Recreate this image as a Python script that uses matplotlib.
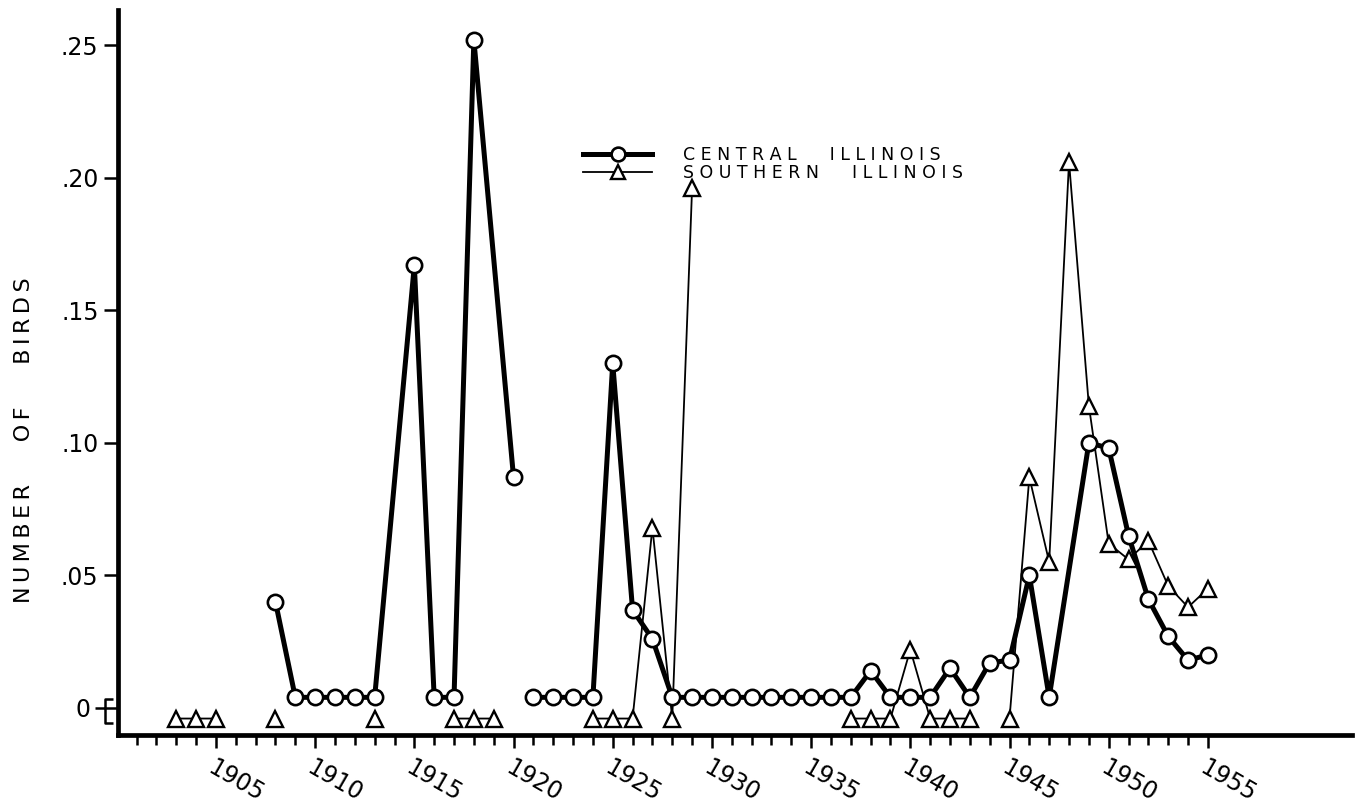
import numpy as np
import matplotlib
matplotlib.use("Agg")
import matplotlib.pyplot as plt
from matplotlib.lines import Line2D

nan = np.nan

# ---------------- data (NaN = break in the line) ----------------
central_years = [1908, 1909, 1910, 1911, 1912, 1913, 1915, 1916, 1917, 1918, 1920, 1920,
                 1921, 1922, 1923, 1924, 1925, 1926, 1927, 1928, 1929, 1930, 1931, 1932,
                 1933, 1934, 1935, 1936, 1937, 1938, 1939, 1940, 1941, 1942, 1943, 1944,
                 1945, 1946, 1947, 1949, 1950, 1951, 1952, 1953, 1954, 1955]
central_values = [0.040, 0.004, 0.004, 0.004, 0.004, 0.004, 0.167, 0.004, 0.004, 0.252, 0.087, nan,
                  0.004, 0.004, 0.004, 0.004, 0.130, 0.037, 0.026, 0.004, 0.004, 0.004, 0.004, 0.004,
                  0.004, 0.004, 0.004, 0.004, 0.004, 0.014, 0.004, 0.004, 0.004, 0.015, 0.004, 0.017,
                  0.018, 0.050, 0.004, 0.100, 0.098, 0.065, 0.041, 0.027, 0.018, 0.020]

southern_years = [1903, 1904, 1905, 1906, 1908, 1909, 1913, 1914, 1917, 1918, 1919, 1920,
                  1924, 1925, 1926, 1927, 1928, 1929, 1930,
                  1937, 1938, 1939, 1940, 1941, 1942, 1943, 1944,
                  1945, 1946, 1947, 1948, 1949, 1950, 1951, 1952, 1953, 1954, 1955]
southern_values = [-0.004, -0.004, -0.004, nan, -0.004, nan, -0.004, nan, -0.004, -0.004, -0.004, nan,
                   -0.004, -0.004, -0.004, 0.068, -0.004, 0.196, nan,
                   -0.004, -0.004, -0.004, 0.022, -0.004, -0.004, -0.004, nan,
                   -0.004, 0.087, 0.055, 0.206, 0.114, 0.062, 0.056, 0.063, 0.046, 0.038, 0.045]

series_labels = ["CENTRAL  ILLINOIS", "SOUTHERN  ILLINOIS"]
y_ticks = [0, 0.05, 0.10, 0.15, 0.20, 0.25]
y_ticklabels = ["0", ".05", ".10", ".15", ".20", ".25"]
x_major = list(range(1905, 1956, 5))
x_minor = list(range(1901, 1956))
y_label = "NUMBER OF BIRDS"


def letterspaced(text, letter_gap="\u2009", word_gap="      "):
    return word_gap.join(letter_gap.join(w) for w in text.split())


plt.rcParams['font.family'] = ['DejaVu Sans']

fig = plt.figure(figsize=(13.62, 8.09), dpi=100)
ax = fig.add_axes([0.0866, 0.0915, 0.906, 0.896])

ax.plot(southern_years, southern_values, color='black', lw=1.3, marker='^',
        markersize=11, markerfacecolor='white', markeredgecolor='black',
        markeredgewidth=1.7, zorder=2)
ax.plot(central_years, central_values, color='black', lw=3.6, marker='o',
        markersize=11, markerfacecolor='white', markeredgecolor='black',
        markeredgewidth=1.9, zorder=3)

ax.set_xlim(1900.06, 1962.26)
ax.set_ylim(-0.0102, 0.2632)

for s in ['top', 'right']:
    ax.spines[s].set_visible(False)
for s in ['left', 'bottom']:
    ax.spines[s].set_linewidth(3.4)
    ax.spines[s].set_capstyle('projecting')

ax.set_xticks(x_major)
ax.set_xticks(x_minor, minor=True)
ax.set_xticklabels([str(y) for y in x_major], fontsize=17,
                   rotation=-30, ha='left', va='top', rotation_mode='anchor')
ax.tick_params(axis='x', which='major', length=9, width=1.8, pad=6)
ax.tick_params(axis='x', which='minor', length=7, width=1.8)

ax.set_yticks(y_ticks)
ax.set_yticklabels(y_ticklabels, fontsize=17)
ax.tick_params(axis='y', which='major', length=10, width=1.8, pad=4)

# zero tick: no tick line, label further left, with dash and bracket
t0 = ax.yaxis.get_major_ticks()[0]
t0.tick1line.set_markersize(0)
t0.set_pad(10)
br = dict(color='black', lw=1.8, clip_on=False, solid_capstyle='butt',
          transform=ax.get_yaxis_transform())
ax.plot([-0.0190, -0.0105], [0.0, 0.0], **br)
ax.plot([-0.0041, -0.0105, -0.0105, -0.0041], [0.0034, 0.0034, -0.0057, -0.0057], **br)

ax.set_ylabel(letterspaced(y_label), fontsize=16)
ax.yaxis.set_label_coords(-0.068, 0.407)

handles = [Line2D([], [], color='black', lw=3.6, marker='o', markersize=11,
                  markerfacecolor='white', markeredgecolor='black', markeredgewidth=1.9),
           Line2D([], [], color='black', lw=1.3, marker='^', markersize=11,
                  markerfacecolor='white', markeredgecolor='black', markeredgewidth=1.7)]
leg = ax.legend(handles, [letterspaced(l, " ", "      ") for l in series_labels],
                loc='center left', bbox_to_anchor=(0.3768, 0.788), frameon=False,
                fontsize=12.5, handlelength=4.0, handletextpad=1.75, labelspacing=0.0,
                borderpad=0, borderaxespad=0, markerscale=0.9)

fig.savefig("out.png", dpi=100)
